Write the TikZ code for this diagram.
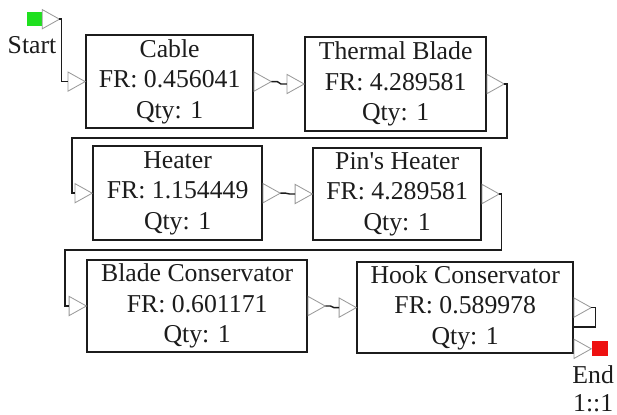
\documentclass[tikz,border=0pt]{standalone}
\usepackage{fontspec}
\setmainfont{Liberation Serif}
\usepackage{xcolor}
\usepackage{tikz}
\usetikzlibrary{positioning,shapes.geometric}
\definecolor{ink}{HTML}{1C1C1C}
\definecolor{portgray}{HTML}{9A9A9A}
\definecolor{startgreen}{HTML}{1FE01F}
\definecolor{endred}{HTML}{EE1111}

\begin{document}
\begin{tikzpicture}[
  blk/.style={draw=ink,line width=1.2pt,fill=white,align=center,inner sep=0pt,
    font=\fontsize{18.3}{21.7}\selectfont,text=ink},
  port/.style={isosceles triangle,isosceles triangle stretches,draw=portgray,line width=0.6pt,
    minimum width=0.48cm,minimum height=0.43cm,inner sep=0pt,outer sep=0pt},
  wire/.style={draw=ink,line width=1pt},
  term/.style={minimum width=0.38cm,minimum height=0.36cm,inner sep=0pt},
  lbl/.style={font=\fontsize{18.3}{21.7}\selectfont,text=ink,align=center}]
  \useasboundingbox (0,0) rectangle (15.425,-10.375);
  % Start
  \node[term,fill=startgreen] (start) at (0.86,-0.48) {};
  \node[port,right=0pt of start] (startout) {};
  \node[lbl] (startlbl) at (0.8,-1.13) {Start};
  % Row 1
  \node[blk,minimum width=4.18cm,minimum height=2.33cm] (cable) at (4.24,-2.04) {Cable\\FR: 0.456041\\Qty: 1};
  \node[blk,minimum width=4.53cm,minimum height=2.35cm] (thermal) at (9.89,-2.10) {Thermal Blade\\FR: 4.289581\\Qty: 1};
  % Row 2
  \node[blk,minimum width=4.23cm,minimum height=2.35cm] (heater) at (4.44,-4.83) {Heater\\FR: 1.154449\\Qty: 1};
  \node[blk,minimum width=4.2cm,minimum height=2.3cm] (pins) at (9.93,-4.85) {Pin\textquotesingle s Heater\\FR: 4.289581\\Qty: 1};
  % Row 3
  \node[blk,minimum width=5.5cm,minimum height=2.3cm] (bladec) at (4.93,-7.65) {Blade Conservator\\FR: 0.601171\\Qty: 1};
  \node[blk,minimum width=5.4cm,minimum height=2.28cm] (hookc) at (11.63,-7.69) {Hook Conservator\\FR: 0.589978\\Qty: 1};
  % ports
  \node[port,left=0pt of cable] (cablein) {};
  \node[port,right=0pt of cable] (cableout) {};
  \node[port,left=0pt of thermal] (thermalin) {};
  \node[port,right=0pt of thermal] (thermalout) {};
  \node[port,left=0pt of heater] (heaterin) {};
  \node[port,right=0pt of heater] (heaterout) {};
  \node[port,left=0pt of pins] (pinsin) {};
  \node[port,right=0pt of pins] (pinsout) {};
  \node[port,left=0pt of bladec] (bladein) {};
  \node[port,right=0pt of bladec] (bladeout) {};
  \node[port,left=0pt of hookc] (hookin) {};
  \node[port,right=0pt of hookc] (hookout) {};
  \node[port,anchor=west] (hookend) at ([yshift=0.13cm]hookc.south east) {};
  % End
  \node[term,minimum width=0.4cm,minimum height=0.38cm,fill=endred,right=0pt of hookend] (endsq) {};
  \node[lbl] (endlbl) at (14.83,-9.72) {End\\[-2pt]1::1};
  % wires
  \coordinate (turnA) at (1.8,-3.45);
  \coordinate (turnB) at (1.63,-6.25);
  \draw[wire] (startout.east) -- ++(0.05,0) |- (cablein.west);
  \draw[wire] (cableout.east) -- ++(0.15,0) -- ([xshift=-0.15cm]thermalin.west) -- (thermalin.west);
  \draw[wire] (thermalout.east) -- ++(0.07,0) |- (turnA) |- (heaterin.west);
  \draw[wire] (heaterout.east) -- ++(0.14,0) -- ([xshift=-0.14cm]pinsin.west) -- (pinsin.west);
  \draw[wire] (pinsout.east) -- ++(0.05,0) |- (turnB) |- (bladein.west);
  \draw[wire] (bladeout.east) -- ++(0.13,0) -- ([xshift=-0.13cm]hookin.west) -- (hookin.west);
  \draw[wire] (hookout.east) -- ++(0.1,0) |- ([yshift=-0.48cm]hookc.east);
\end{tikzpicture}
\end{document}
